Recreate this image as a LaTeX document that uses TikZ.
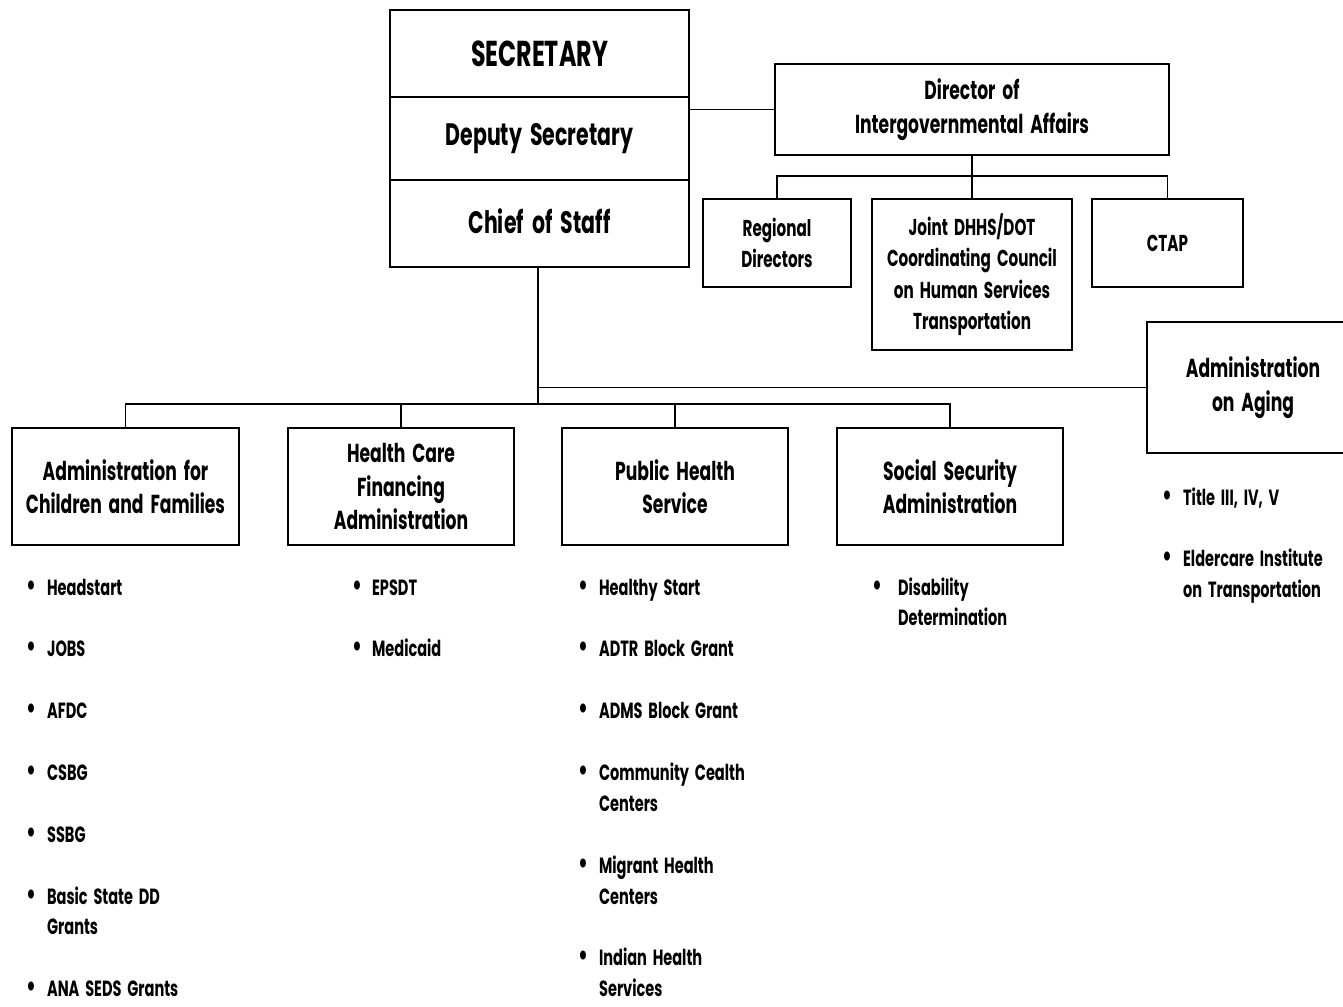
\documentclass[tikz,border=0pt]{standalone}
\usepackage{fontspec}
\setmainfont[FakeStretch=0.66, WordSpace=1.9]{Poppins}
\newcommand\secfont{\bfseries\fontsize{36}{40}\selectfont}
\newcommand\depfont{\bfseries\fontsize{31}{36}\selectfont}
\newcommand\boxfont{\bfseries\fontsize{26}{33.5}\selectfont}
\newcommand\smallboxfont{\bfseries\fontsize{23}{31.5}\selectfont}
\newcommand\listfont{\bfseries\fontsize{22}{30.9}\selectfont}
\newcommand\bul{{\fontsize{30}{30}\selectfont •}}
\begin{document}
\begin{tikzpicture}[x=1pt,y=-1pt,
  box/.style={draw, line width=2.2pt, inner sep=0pt, align=center, font=\boxfont},
  conn/.style={line width=1.6pt},
  itemlist/.style={anchor=base west, inner sep=0pt, font=\listfont}]
\useasboundingbox (0,0) rectangle (1343,1006);
\fill[white] (0,0) rectangle (1343,1006);

% top stacked box
\node[box, minimum width=299pt, minimum height=87pt, font=\secfont] (sec) at (539.5,53.5) {SECRETARY};
\node[box, minimum width=299pt, minimum height=83pt, font=\depfont] (dep) at (539.5,138.5) {Deputy Secretary};
\node[box, minimum width=299pt, minimum height=87pt, font=\depfont] (cos) at (539.5,223.5) {\raisebox{4pt}{Chief of Staff}};

% intergovernmental branch
\node[box, minimum width=394pt, minimum height=91pt] (dir) at (972,109.5) {Director of\\Intergovernmental Affairs};
\node[box, minimum width=148pt, minimum height=88pt, font=\smallboxfont] (reg) at (777,243) {Regional\\Directors};
\node[box, minimum width=200pt, minimum height=151pt, font=\smallboxfont] (joint) at (972,274.5) {Joint DHHS/DOT\\Coordinating Council\\on Human Services\\Transportation};
\node[box, minimum width=151pt, minimum height=88pt, font=\smallboxfont] (ctap) at (1167.5,243) {CTAP};

% operating divisions
\node[box, minimum width=227pt, minimum height=117pt] (acf) at (125.5,486.5) {Administration for\\Children and Families};
\node[box, minimum width=226pt, minimum height=117pt] (hcfa) at (401,486.5) {Health Care\\Financing\\Administration};
\node[box, minimum width=226pt, minimum height=117pt] (phs) at (675,486.5) {Public Health\\Service};
\node[box, minimum width=226pt, minimum height=117pt] (ssa) at (950,486.5) {Social Security\\Administration};
\node[box, draw=none, minimum width=210pt, minimum height=131pt] (aging) at (1253,387.5) {Administration\\on Aging};
\draw[line width=2.2pt] (1350,322) -| (aging.west |- 0,453) -- (1350,453);
\coordinate (agw) at (1148,387.5);

% connectors
\draw[conn] (dir.west -| dep.east) -- (dir.west);
\draw[conn] (dir.south) -- (joint.north);
\draw[conn] (reg.north) -- ++(0,-22) -| (ctap.north);
\draw[conn] (538,267) -- (538,405);
\draw[conn] (agw) -- (538,387.5);
\draw[conn] (acf.north) -- ++(0,-23) -| (ssa.north);
\draw[conn] (hcfa.north) -- ++(0,-23);
\draw[conn] (phs.north) -- ++(0,-23);

% lists
\node[itemlist] (l1) at (26,595) {\begin{tabular}[t]{@{}l@{\hspace{11pt}}l@{}}
\bul & Headstart\\[30.9pt]
\bul & JOBS\\[30.9pt]
\bul & AFDC\\[30.9pt]
\bul & CSBG\\[30.9pt]
\bul & SSBG\\[30.9pt]
\bul & Basic State DD\\
  & Grants\\[30.9pt]
\bul & ANA SEDS Grants
\end{tabular}};
\node[itemlist] (l2) at (352,595) {\begin{tabular}[t]{@{}l@{\hspace{10pt}}l@{}}
\bul & EPSDT\\[30.9pt]
\bul & Medicaid
\end{tabular}};
\node[itemlist] (l3) at (578,595) {\begin{tabular}[t]{@{}l@{\hspace{11pt}}l@{}}
\bul & Healthy Start\\[30.9pt]
\bul & ADTR Block Grant\\[30.9pt]
\bul & ADMS Block Grant\\[30.9pt]
\bul & Community Cealth\\
  & Centers\\[30.9pt]
\bul & Migrant Health\\
  & Centers\\[30.9pt]
\bul & Indian Health\\
  & Services
\end{tabular}};
\node[itemlist] (l4) at (872,595) {\begin{tabular}[t]{@{}l@{\hspace{16pt}}l@{}}
\bul & Disability\\
  & Determination
\end{tabular}};
\node[itemlist] (l5) at (1162,505) {\begin{tabular}[t]{@{}l@{\hspace{11pt}}l@{}}
\bul & Title III, IV, V\\[30.9pt]
\bul & Eldercare Institute\\
  & on Transportation
\end{tabular}};
\end{tikzpicture}
\end{document}
